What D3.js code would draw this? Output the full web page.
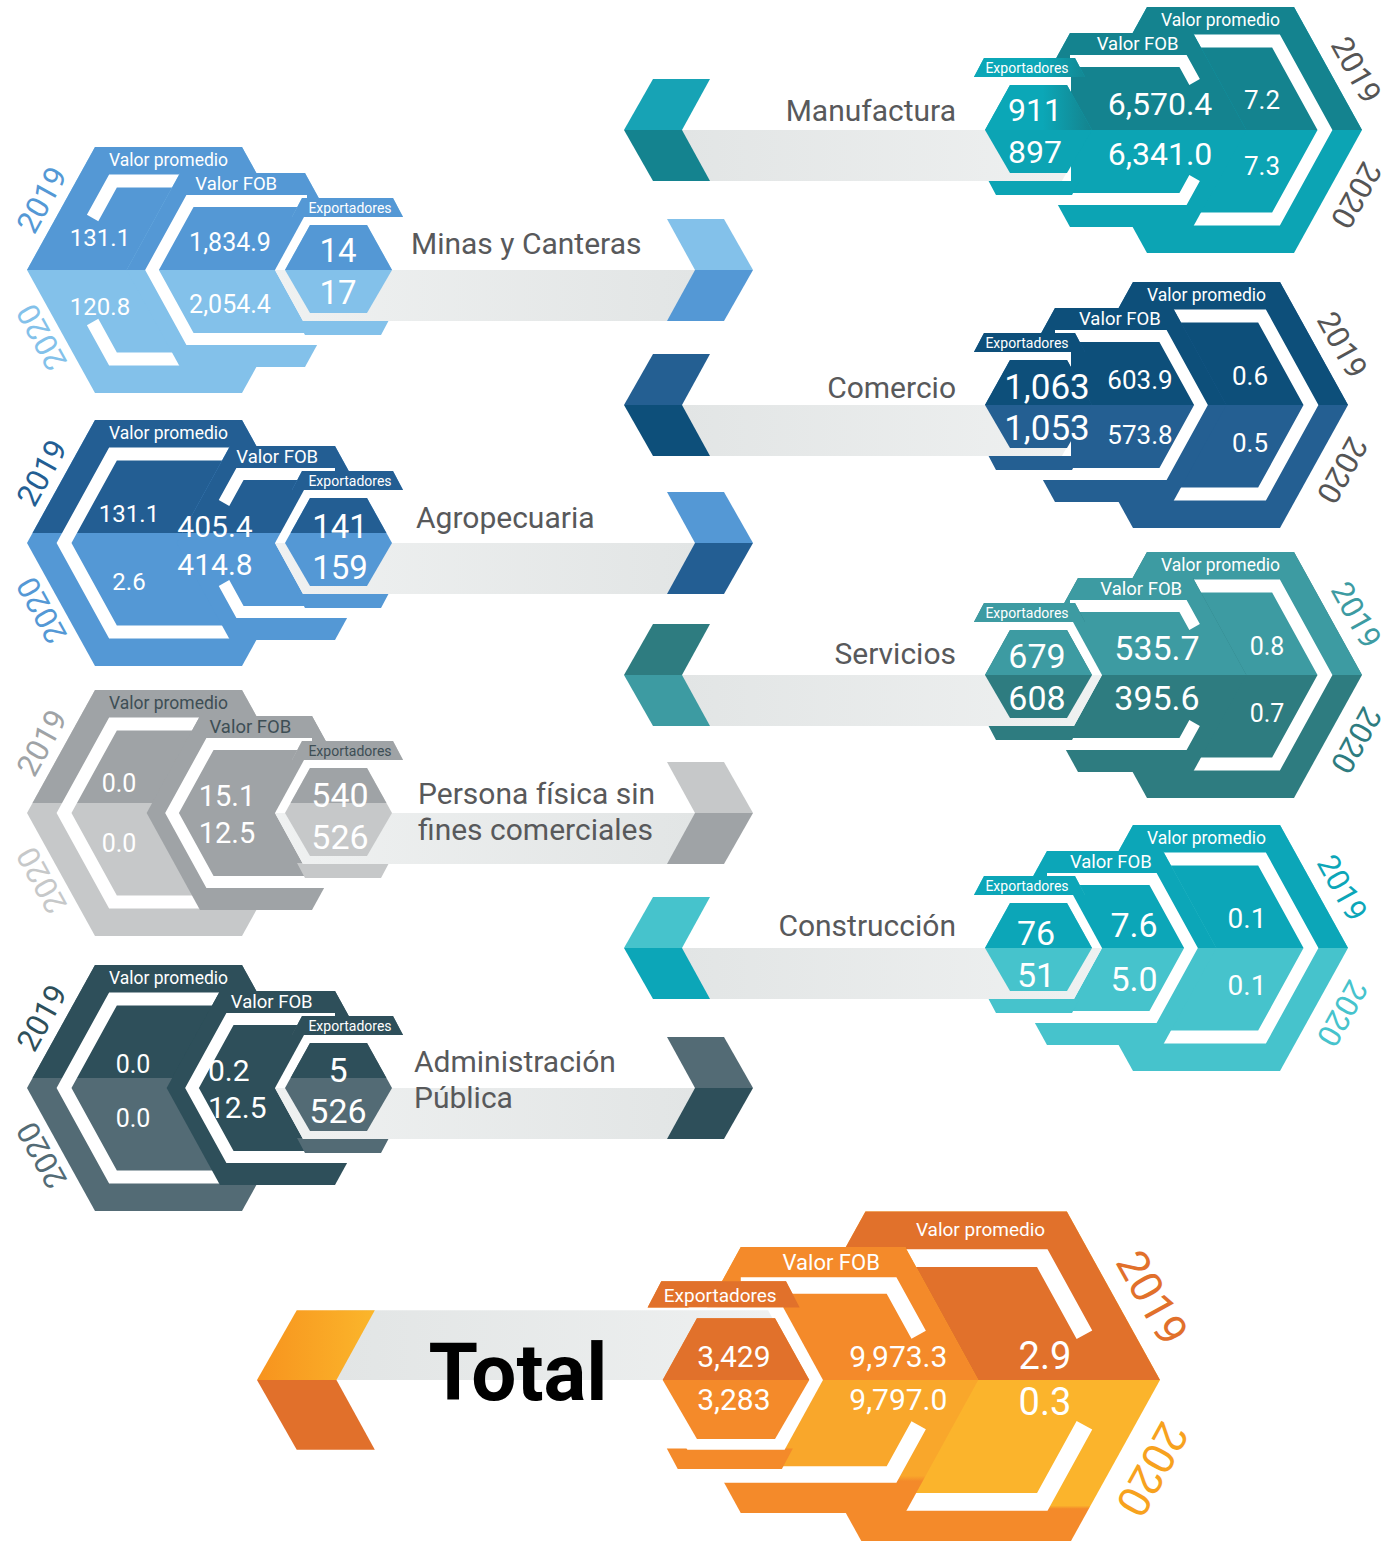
<!DOCTYPE html>
<html>
<head>
<meta charset="utf-8">
<script src="https://cdn.jsdelivr.net/npm/d3@7"></script>
<style>
  body { margin: 0; background: #fff; }
  svg { display: block; font-family: Roboto, "Open Sans", sans-serif; }
</style>
</head>
<body>
<div id="chart"></div>
<script>
// ---- data ----
var sectors = ['Manufactura', 'Minas y Canteras', 'Comercio', 'Agropecuaria', 'Servicios',
               'Persona física sin fines comerciales', 'Construcción', 'Administración Pública', 'Total'];
var years = ['2019', '2020'];
var measures = ['Valor promedio', 'Valor FOB', 'Exportadores'];
var exp2019  = [911, 14, 1063, 141, 679, 540, 76, 5, 3429];
var exp2020  = [897, 17, 1053, 159, 608, 526, 51, 526, 3283];
var fob2019  = [6570.4, 1834.9, 603.9, 405.4, 535.7, 15.1, 7.6, 0.2, 9973.3];
var fob2020  = [6341.0, 2054.4, 573.8, 414.8, 395.6, 12.5, 5.0, 12.5, 9797.0];
var prom2019 = [7.2, 131.1, 0.6, 131.1, 0.8, 0.0, 0.1, 0.0, 2.9];
var prom2020 = [7.3, 120.8, 0.5, 2.6, 0.7, 0.0, 0.1, 0.0, 0.3];

// ---- layout / styles for each block (same order as sectors) ----
var layout = [
  {side:'R', tip:1362, cy:130, col:['#14838f','#0ca4b4'], col2:['url(#manufExp)','#0ca4b4'], chev:['#17a3b5','#14838f'], chevX:624,
   s1:169, t1:123, n:377, gap1:48, far2:false, fs:[26,32,32], vp:[[100,-30,36],[202,-26,24],[327,-20,22]],
   yc:['#555','#555'], title:{x:956, y:[121]}},
  {side:'L', tip:27, cy:270, col:['#5498d5','#83c1ea'], chev:['#83c1ea','#5498d5'], chevX:753,
   s1:153, t1:125, n:365, gap0:52, far2:true, fs:[24,25,33], vp:[[73,-32,37],[203,-28,34],[311,-20,22]],
   title:{x:411, y:[254]}},
  {side:'R', tip:1348, cy:405, col:['#0d4f7a','#245f92'], chev:['#245f92','#0d4f7a'], chevX:624,
   s1:175, t1:118, n:363, far2:false, fs:[26,26,35], vp:[[98,-29,38],[208,-25,30],[301,-18,23]],
   yc:['#555','#555'], title:{x:956, y:[398]}},
  {side:'L', tip:27, cy:543, split:-10, col:['#235e93','#5498d5'], chev:['#5498d5','#235e93'], chevX:753,
   s1:203, t1:105, n:365, gap1:40, far2:true, fs:[24,30,33], vp:[[102,-29,39],[188,-17,21],[313,-17,24]],
   title:{x:416, y:[528]}},
  {side:'R', tip:1362, cy:675, col:['#3d9ba2','#2e7c80'], chev:['#2e7c80','#3d9ba2'], chevX:624,
   s1:169, t1:115, n:377, gap1:48, far2:true, fs:[25,34,34], vp:[[95,-29,38],[205,-27,23],[325,-19,23]],
   title:{x:956, y:[664]}},
  {side:'L', tip:27, cy:813, split:-10, col:['#9fa3a6','#c6c8c9'], col1:['#9fa3a6','#9fa3a6'], chev:['#c6c8c9','#9fa3a6'], chevX:753,
   s1:173, t1:112, n:365, far2:true, fs:[25,29,34], vp:[[92,-30,30],[200,-17,20],[313,-18,24]],
   labelColor:'#3d4e55', title:{x:418, y:[804,840], wrap:3}},
  {side:'R', tip:1348, cy:948, col:['#0ca6b8','#46c3cc'], chev:['#46c3cc','#0ca6b8'], chevX:624,
   s1:185, t1:116, n:363, far2:true, fs:[28,34,34], vp:[[101,-30,37],[214,-23,31],[312,-15,27]],
   title:{x:956, y:[936]}},
  {side:'L', tip:27, cy:1088, split:-10, col:['#2e4f5a','#536b75'], col1:['#2e4f5a','#2e4f5a'], chev:['#536b75','#2e4f5a'], chevX:753,
   s1:193, t1:115, n:365, far2:true, fs:[25,30,34], vp:[[106,-24,30],[181,-18,19],[311,-18,23]], va:[null,'start',null],
   title:{x:414, y:[1072,1108], wrap:1}},
  {side:'R', tip:1160, cy:1380, sc:1.37, col:['#e1712b','url(#totL0b)'], col1:['#f48a2a','url(#totL1b)'], col2:['#e1712b','#f48a2a'],
   chev:['url(#totChev)','#e1702b'], chevX:257, s1:186, t1:120, n:363, gap0:33, gap1:33, far2:true, bandTop:true,
   fs:[38,30,30], lfs:[19,22,19], lu0:131, yfs:44, vp:[[84,-17.5,16],[191,-17,14],[311,-17,14]],
   yc:['#e1702b','#f7a21e'], title:{x:518, y:[1400], total:true}}
];

var K = 0.55;   // slope of hexagon sides (dx per dy)
var W = 1396, H = 1541;

var svg = d3.select('#chart').append('svg').attr('width', W).attr('height', H);
var defs = svg.append('defs');

function grad(id, attrs, stops) {
  var gr = defs.append('linearGradient').attr('id', id);
  Object.keys(attrs).forEach(function (a) { gr.attr(a, attrs[a]); });
  stops.forEach(function (s) { gr.append('stop').attr('offset', s[0]).attr('stop-color', s[1]); });
}
grad('bandL', {x1:0, y1:0, x2:1, y2:0}, [[0,'#eff1f1'],[1,'#e2e5e5']]);
grad('bandR', {x1:0, y1:0, x2:1, y2:0}, [[0,'#e2e5e5'],[1,'#eff1f1']]);
grad('manufExp', {gradientUnits:'userSpaceOnUse', x1:985, y1:0, x2:1100, y2:0}, [[0,'#0ba7b7'],[0.5,'#0ba7b7'],[0.9,'#148590']]);
grad('totChev', {gradientUnits:'userSpaceOnUse', x1:257, y1:0, x2:375, y2:0}, [[0,'#f7931e'],[1,'#fbb62b']]);
grad('totL0b', {gradientUnits:'userSpaceOnUse', x1:0, y1:1380, x2:0, y2:1541}, [[0,'#fbb42c'],[0.78,'#fbb42c'],[0.8,'#f48a2a'],[1,'#f48a2a']]);
grad('totL1b', {gradientUnits:'userSpaceOnUse', x1:0, y1:1380, x2:0, y2:1513}, [[0,'#f9a72b'],[0.72,'#f9a72b'],[0.76,'#f48a2a'],[1,'#f48a2a']]);

var fmtInt = d3.format(','), fmtF = d3.format(',.1f');

layout.forEach(function (b, i) {
  var sc = b.sc || 1, dir = b.side === 'L' ? 1 : -1;
  var xs = d3.scaleLinear().domain([0, 1]).range([b.tip, b.tip + dir * sc]);
  var ys = d3.scaleLinear().domain([0, 1]).range([b.cy, b.cy + sc]);
  var line = d3.line().x(function (p) { return xs(p[0]); }).y(function (p) { return ys(p[1]); });
  var splitY = b.cy + (b.split || 0);
  var col0 = b.col, col1 = b.col1 || b.col, col2 = b.col2 || b.col;
  var N = b.n, s1 = b.s1, t1 = b.t1;

  defs.append('clipPath').attr('id', 'top' + i)
    .append('rect').attr('x', 0).attr('y', 0).attr('width', W).attr('height', splitY);

  var g = svg.append('g').attr('class', 'block');

  function shape(pts, c) {
    g.append('path').attr('d', line(pts) + 'Z').attr('fill', c[1]);
    g.append('path').attr('d', line(pts) + 'Z').attr('fill', c[0]).attr('clip-path', 'url(#top' + i + ')');
  }
  function flat(pts, fill) {
    g.append('path').attr('d', line(pts) + 'Z').attr('fill', fill);
  }
  function stroke(pts, w) {
    g.append('path').attr('d', line(pts)).attr('fill', 'none')
      .attr('stroke', '#fff').attr('stroke-width', w * sc).attr('stroke-linejoin', 'miter');
  }
  // white C-shaped bracket, optionally open in the middle
  function bracket(tipU, cd, endTop, endBot, gap, w) {
    var cU = tipU + cd * K;
    if (!gap) {
      stroke([[endTop, -cd], [cU, -cd], [tipU, 0], [cU, cd], [endBot, cd]], w);
    } else {
      stroke([[endTop, -cd], [cU, -cd], [tipU + gap * K, -gap]], w);
      stroke([[tipU + gap * K, gap], [cU, cd], [endBot, cd]], w);
    }
  }

  // layer 0: Valor promedio
  shape([[0, 0], [68, -123], [215, -123], [283, 0], [215, 123], [68, 123]], col0);
  bracket(37, 89, s1 + 12, s1 + 12, b.gap0 || 0, 13);

  // layer 1: Valor FOB
  var h1 = 97;
  shape([[s1 - h1 * K, 0], [s1, -h1], [s1 + t1, -h1], [s1 + t1 + h1 * K, 0], [s1 + t1, h1], [s1, h1]], col1);
  var tr = s1 - 28, g1 = b.gap1 || 0, c1 = tr + 69 * K;
  var eTop = Math.max(s1 + t1, N - 85), eBot = s1 + t1 + 30;
  if (!g1) {
    stroke([[eTop, -69], [c1, -69], [tr, 0], [c1, 69], [eBot, 69]], 12);
  } else {
    stroke([[eTop, -69], [c1, -69], [tr + g1 * K, -g1]], 12);
    stroke([[tr + g1 * K, g1], [c1, 69], [eBot, 69]], 12);
  }

  // layer 2: Exportadores
  shape([[N - 90, -72], [N + 1, -72], [N + 11, -53], [N - 100, -53]], col2);
  shape([[N - 95, 50], [N - 3, 50], [N - 11, 65], [N - 87, 65]], col2);
  if (b.far2) {
    flat([[N - 117, 0], [N - 88, -53], [N - 19, -53], [N + 10, 0], [N - 18, 51], [N - 89, 51]], '#fff');
  } else {
    flat([[N - 86, -53], [N - 19, -53], [N + 10, 0], [N - 18, 51], [N - 86, 51]], '#fff');
  }

  // grey band running to the chevron
  var uc = xs.invert(b.chevX), uN = uc - 58;
  var bEnd = (b.far2 && !b.bandTop) ? N - 117 : N - 105;
  var bs = b.bandTop ? -1 : 1;
  var bandFill = b.side === 'L' ? 'url(#bandL)' : 'url(#bandR)';
  flat([[uN, 0], [bEnd, 0], [bEnd + 51 * K, 51 * bs], [uN, 51 * bs]], bandFill);

  shape([[N - 107, 0], [N - 82, -45], [N - 25, -45], [N, 0], [N - 25, 43], [N - 82, 43]], col2);

  // chevron
  g.append('path').attr('d', line([[uc, 0], [uc - 29, -51], [uc - 86, -51], [uc - 58, 0]]) + 'Z').attr('fill', b.chev[0]);
  g.append('path').attr('d', line([[uc, 0], [uc - 58, 0], [uc - 86, 51], [uc - 29, 51]]) + 'Z').attr('fill', b.chev[1]);

  // measure labels on the tabs
  var lfs = b.lfs || [17.5, 18.5, 14];
  var lpos = [[b.lu0 || (68 + 215) / 2, -110], [s1 + t1 * 0.45, -86], [N - 42, -62]];
  measures.forEach(function (m, j) {
    svg.append('text').attr('x', xs(lpos[j][0])).attr('y', ys(lpos[j][1]))
      .attr('text-anchor', 'middle').attr('dominant-baseline', 'central')
      .attr('font-size', lfs[j]).attr('fill', b.labelColor || '#fff').text(m);
  });

  // values
  var vals = [[fmtF(prom2019[i]), fmtF(prom2020[i])],
              [fmtF(fob2019[i]), fmtF(fob2020[i])],
              [fmtInt(exp2019[i]), fmtInt(exp2020[i])]];
  vals.forEach(function (pair, j) {
    pair.forEach(function (v, k) {
      svg.append('text').attr('x', xs(b.vp[j][0])).attr('y', ys(b.vp[j][k + 1]))
        .attr('text-anchor', (b.va && b.va[j]) || 'middle').attr('dominant-baseline', 'central')
        .attr('font-size', b.fs[j]).attr('fill', '#fff').text(v);
    });
  });

  // year labels along the outer edge
  var yc = b.yc || [b.col[0], b.col[1]];
  var ypos = dir === 1 ? [[15, -70], [15, 67]] : [[6, -60], [6, 65]];
  years.forEach(function (y, k) {
    var rot = dir === 1 ? (k === 0 ? -61 : -119) : (k === 0 ? 61 : 119);
    var px = xs(ypos[k][0]), py = ys(ypos[k][1]);
    svg.append('text').attr('transform', 'translate(' + px + ',' + py + ') rotate(' + rot + ')')
      .attr('text-anchor', 'middle').attr('dominant-baseline', 'central')
      .attr('font-size', b.yfs || 31).attr('fill', yc[k]).text(y);
  });

  // sector title
  var words = sectors[i].split(' ');
  var lines = b.title.wrap ? [words.slice(0, b.title.wrap).join(' '), words.slice(b.title.wrap).join(' ')] : [sectors[i]];
  lines.forEach(function (l, k) {
    var t = svg.append('text').attr('x', b.title.x).attr('y', b.title.y[k]).text(l);
    if (b.title.total) {
      t.attr('text-anchor', 'middle').attr('font-size', 80).attr('font-weight', 700).attr('fill', '#000');
    } else {
      t.attr('text-anchor', b.side === 'L' ? 'start' : 'end').attr('font-size', 30).attr('fill', '#58595b');
    }
  });
});
</script>
</body>
</html>
